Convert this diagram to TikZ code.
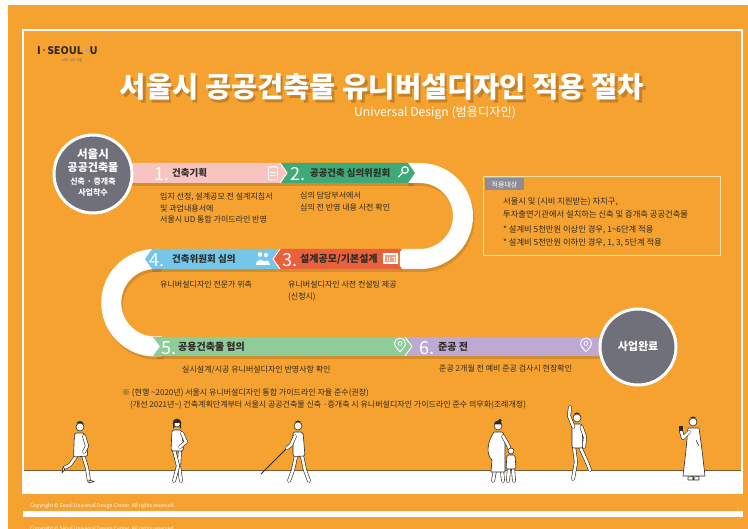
\documentclass[tikz,border=0pt]{standalone}
\usepackage{fontspec}
\setmainfont{Noto Sans CJK KR}
\definecolor{bg}{HTML}{F5A230}
\definecolor{ink}{HTML}{2E2A26}
\definecolor{disc}{HTML}{6F7079}
\definecolor{pinkband}{HTML}{F7C4C0}
\definecolor{greenband}{HTML}{3DAA78}
\definecolor{redband}{HTML}{E8613C}
\definecolor{blueband}{HTML}{74C6EA}
\definecolor{mintband}{HTML}{8ECC9A}
\definecolor{lilacband}{HTML}{BEA9D3}
\definecolor{cream}{HTML}{FAE3A8}
\definecolor{tabgray}{HTML}{8C8D97}
\definecolor{groundline}{HTML}{7A5A32}
\definecolor{logored}{HTML}{E4352B}
\definecolor{logoblue}{HTML}{6CB7E0}
\tikzset{
  lbl/.style={inner sep=0, anchor=base west, text=ink, font=\fontsize{10}{10}\selectfont\bfseries},
  num/.style={inner sep=0, anchor=base west, text=white, font=\fontsize{18}{18}\selectfont},
  desc/.style={inner sep=0, anchor=base west, text=ink, font=\fontsize{8}{8}\selectfont},
  boxtext/.style={inner sep=0, anchor=base west, text=ink, font=\fontsize{8.3}{8.3}\selectfont},
  disctext/.style={inner sep=0, anchor=base, text=white, font=\bfseries},
  bandshadow/.style={fill=black, opacity=0.13},
  road/.style={draw=white, line width=20pt},
  limb/.style={draw=ink, double=white, double distance=2.6pt, line width=0.6pt, line cap=round, line join=round},
  body/.style={draw=ink, fill=white, line width=0.6pt, line join=round},
  hair/.style={fill=ink},
  icon/.style={draw=white, line width=0.9pt, line cap=round, line join=round},
  copyline/.style={inner sep=0, anchor=base west, text=white, font=\fontsize{5}{5}\selectfont},
}
\begin{document}
\begin{tikzpicture}[x=1pt, y=-1pt]
\useasboundingbox (0,0) rectangle (748,529);
% page and frame
\fill[white] (0,0) rectangle (748,529);
\fill[bg] (8,5) rectangle (748,529);
\fill[white] (23,470) rectangle (742,493);
\draw[groundline, line width=0.8pt] (23,470) -- (742,470);
\draw[white, line width=2pt] (23,30) rectangle (742,493);
\fill[white] (23,511) rectangle (743,517);

% logo
\node[inner sep=0, anchor=base west, text=ink, font=\fontsize{10.5}{10}\selectfont\bfseries] (logo) at (37,55)
  {I\textcolor{logored}{·}SEOUL\textcolor{logoblue}{·}U};
\node[inner sep=0, anchor=base, text=ink!70, font=\fontsize{3.5}{3.5}\selectfont] (tagline) at (72,62) {너와 나의 서울};

% title with its soft shade
\node[inner sep=0, anchor=base, text=black, text opacity=0.2, font=\fontsize{28.5}{28.5}\selectfont\bfseries] (titleshade) at (384.5,100.5)
  {서울시 공공건축물 유니버설디자인 적용 절차};
\node[inner sep=0, anchor=base, text=white, font=\fontsize{28.5}{28.5}\selectfont\bfseries] (title) at (382,98)
  {서울시 공공건축물 유니버설디자인 적용 절차};
\node[inner sep=0, anchor=base west, text=white, font=\fontsize{12.2}{12.2}\selectfont] (subtitle) at (354,117)
  {Universal Design (범용디자인)};

% shadows of the route
\begin{scope}[xshift=1.5pt, yshift=-3pt]
  \draw[black, opacity=0.12, line width=20pt] (406,173) -- (420,173) arc[start angle=-90, end angle=90, radius=43] -- (400,259);
  \draw[black, opacity=0.12, line width=20pt] (160,259) -- (155,259) arc[start angle=270, end angle=90, radius=43.75] -- (162,346.5);
  \fill[bandshadow] (125,163) rectangle (412,183);
  \fill[bandshadow] (150,249) rectangle (400,269);
  \fill[bandshadow] (155,337) rectangle (600,356);
\end{scope}

% white bends of the route
\draw[road] (406,173) -- (420,173) arc[start angle=-90, end angle=90, radius=43] -- (400,259);
\draw[road] (160,259) -- (155,259) arc[start angle=270, end angle=90, radius=43.75] -- (162,346.5);

% step bands
\fill[pinkband] (125,163) -- (280,163) -- (287,173) -- (280,183) -- (125,183) -- cycle;
\fill[greenband] (281,163) -- (408,163) -- (415,173) -- (408,183) -- (281,183) -- (288,173) -- cycle;
\draw[white, line width=1pt] (280,163) -- (287,173) -- (280,183);
\fill[redband] (402,249) -- (280,249) -- (273,259) -- (280,269) -- (402,269) -- (395,259) -- cycle;
\fill[blueband] (279,249) -- (152,249) -- (145,259) -- (152,269) -- (279,269) -- (272,259) -- cycle;
\draw[white, line width=1pt] (280,249) -- (273,259) -- (280,269);
\fill[mintband] (153,337) -- (405,337) -- (412,346.5) -- (405,356) -- (153,356) -- (160,346.5) -- cycle;
\fill[lilacband] (406,337) -- (598,337) -- (605,346.5) -- (598,356) -- (406,356) -- (413,346.5) -- cycle;
\draw[white, line width=1pt] (405,337) -- (412,346.5) -- (405,356);

% start and end discs
\node[circle, fill=disc, draw=white, line width=3pt, minimum size=78pt, inner sep=0] (start) at (93,174) {};
\node[disctext, font=\fontsize{11.5}{11.5}\selectfont\bfseries] (s1) at (93,159) {서울시};
\node[disctext, font=\fontsize{11}{11}\selectfont\bfseries] (s2) at (93,172) {공공건축물};
\node[disctext, font=\fontsize{8}{8}\selectfont\bfseries] (s3) at (93,185) {신축 · 증개축};
\node[disctext, font=\fontsize{8}{8}\selectfont\bfseries] (s4) at (93,196) {사업착수};
\node[circle, fill=disc, draw=white, line width=3pt, minimum size=76pt, inner sep=0] (finish) at (638,347) {};
\node[disctext, font=\fontsize{11}{11}\selectfont\bfseries] (f1) at (638,351) {사업완료};

% step titles
\node[num] (n1) at (154,181) {1.};
\node[lbl, font=\fontsize{9.5}{9.5}\selectfont\bfseries] (t1) at (172,177) {건축기획};
\node[num] (n2) at (290,181) {2.};
\node[lbl, font=\fontsize{9.4}{9.4}\selectfont\bfseries] (t2) at (310,177) {공공건축 심의위원회};
\node[num] (n3) at (282,267) {3.};
\node[lbl] (t3) at (300,263) {설계공모/기본설계};
\node[num] (n4) at (149,267) {4.};
\node[lbl, font=\fontsize{9.5}{9.5}\selectfont\bfseries] (t4) at (172,263) {건축위원회 심의};
\node[num] (n5) at (161,354.5) {5.};
\node[lbl] (t5) at (178,350.5) {공용건축물 협의};
\node[num] (n6) at (419,354.5) {6.};
\node[lbl] (t6) at (438,350.5) {준공 전};

% icons on the bands
\draw[icon, rounded corners=1pt] (268.5,167) rectangle (277.5,180);
\draw[icon] (271,166.5) -- (275,166.5);
\draw[icon, line width=0.6pt] (270.5,172) -- (275.5,172) (270.5,175) -- (275.5,175);
\draw[icon, line width=1.2pt] (405,170) circle[radius=3.3] (402.6,172.6) -- (398.5,177);
\fill[white] (383,253.5) rectangle (398,264.5);
\fill[redband!60] (385,255.5) rectangle (396,262.5);
\draw[white, line width=0.7pt] (387,257) -- (387,261) (389.5,257) -- (389.5,261) (392,257) -- (394,257) -- (394,261);
\fill[white] (260,254.5) circle[radius=2.3] (266,255) circle[radius=2.1];
\fill[white] (255.5,265) .. controls (255.5,258.5) and (264.5,258.5) .. (264.5,265) -- cycle;
\fill[white] (262.5,265) .. controls (262.5,259) and (270,259) .. (270,265) -- cycle;
\foreach \px in {400, 586}{
  \draw[icon] (\px,352) .. controls (\px-3,348) and (\px-5.5,346) .. (\px-5.5,343.5)
     arc[start angle=180, end angle=360, radius=5.5] .. controls (\px+5.5,346) and (\px+3,348) .. (\px,352);
  \draw[icon, line width=0.7pt] (\px,343.5) circle[radius=2];
}

% step notes
\node[desc] (d1a) at (160,200) {입지 선정, 설계공모 전 설계지침서};
\node[desc] (d1b) at (160,211.5) {및 과업내용서에};
\node[desc] (d1c) at (160,223) {서울시 UD 통합 가이드라인 반영};
\node[desc] (d2a) at (300,198.5) {심의 담당부서에서};
\node[desc] (d2b) at (300,211) {심의 전 반영 내용 사전 확인};
\node[desc] (d4) at (160,288) {유니버설디자인 전문가 위촉};
\node[desc] (d3a) at (288,288) {유니버설디자인 사전 컨설팅 제공};
\node[desc] (d3b) at (288,300) {(신청시)};
\node[desc] (d5) at (182,373) {실시설계/시공 유니버설디자인 반영사항 확인};
\node[desc] (d6) at (439,372) {준공 2개월 전 예비 준공 검사시 현장확인};

% scope box
\draw[cream, line width=1pt] (483,177) rectangle (720,256);
\fill[tabgray] (485,178.5) rectangle (524,190);
\node[inner sep=0, anchor=base, text=white, font=\fontsize{7}{7}\selectfont] (tab) at (504.5,187.5) {적용대상};
\node[boxtext] (b1) at (503,205) {서울시 및 (시비 지원받는) 자치구,};
\node[boxtext] (b2) at (503,218) {투자출연기관에서 설치하는 신축 및 증개축 공공건축물};
\node[boxtext] (b3) at (503,233) {* 설계비 5천만원 이상인 경우, 1\textasciitilde6단계 적용};
\node[boxtext] (b4) at (503,246) {* 설계비 5천만원 이하인 경우, 1, 3, 5단계 적용};

% footnotes
\node[desc] (fn1) at (122,396) {※ (현행 \textasciitilde2020년) 서울시 유니버설디자인 통합 가이드라인 자율 준수(권장)};
\node[desc] (fn2) at (130,407.5) {(개선 2021년\textasciitilde) 건축계획단계부터 서울시 공공건축물 신축 ·증개축 시 유니버설디자인 가이드라인 준수 의무화(조례개정)};

% copyright lines
\node[copyline] (copy1) at (30,508) {Copyright © Seoul Universal Design Center. All rights reserved.};
\node[copyline] (copy2) at (30,530.5) {Copyright © Seoul Universal Design Center. All rights reserved.};

% walking man
\draw[limb] (77,455) -- (70,465) -- (64,468);
\draw[limb] (83,455) -- (87,468) -- (89,481);
\draw[body, rounded corners=2pt] (74.5,433) -- (85,433) -- (88,456) -- (73.5,457) -- cycle;
\draw[limb] (84,436) -- (87,446) -- (84,452);
\draw[body] (80,427) circle[radius=4];
\fill[hair] (76,425) arc[start angle=180, end angle=360, radius=4] -- (84,423.5) -- (77,423) -- cycle;
\draw[body] (89,480) -- (94,481.5) -- (89,483) -- cycle;
\draw[body] (63,467) -- (62,473) -- (65,469) -- cycle;

% woman with hand on hip
\draw[limb] (180,450) -- (179,466) -- (181,481);
\draw[limb] (174,450) -- (178,466) -- (174,481);
\draw[body, rounded corners=2pt] (172,430) -- (182,430) -- (183.5,451) -- (171,451) -- cycle;
\draw[limb] (182,433) -- (186,442) -- (180,447);
\draw[body] (177,423) circle[radius=4];
\fill[hair] (173,423) arc[start angle=180, end angle=360, radius=4] -- (181,429) -- (179.5,427) -- (179.5,423) -- (174.5,423) -- (174.5,427) -- (173,429) -- cycle;

% man with white cane
\draw[ink, line width=0.8pt] (287,448) -- (261,474);
\draw[limb] (296,456) -- (293,470) -- (289,481);
\draw[limb] (302,456) -- (305,470) -- (309,481);
\draw[body, rounded corners=2pt] (293,432) -- (303,432) -- (305,456) -- (293,456.5) -- cycle;
\draw[limb] (295,436) -- (291,445) -- (287,448);
\draw[body] (298,426) circle[radius=4];
\fill[hair] (294,424.5) arc[start angle=180, end angle=360, radius=4] -- (301,422) -- (295,422) -- cycle;

% pregnant woman and child
\draw[limb] (495,470) -- (493,481);
\draw[limb] (502,470) -- (503,481);
\draw[body] (494,432) .. controls (487,442) and (486,455) .. (492,460) -- (491,472) -- (505,472)
   -- (505,445) .. controls (505,438) and (504,433) .. (502,432) -- cycle;
\draw[limb] (503,436) -- (508,445) -- (510,450);
\draw[body] (498,426) circle[radius=4];
\fill[hair] (494,424.5) arc[start angle=180, end angle=360, radius=4] -- cycle;
\fill[hair] (500,420.5) circle[radius=1.8];
\draw[limb] (509,468) -- (508,481);
\draw[limb] (513,468) -- (514,481);
\draw[body, rounded corners=1.5pt] (507,455) -- (515,455) -- (516,469) -- (506,469) -- cycle;
\draw[body] (511,451) circle[radius=3];

% man waving
\draw[limb] (574,447) -- (576,462) -- (573,479);
\draw[limb] (580,447) -- (586,460) -- (590,470);
\draw[body, rounded corners=2pt] (572,424) -- (582,424) -- (583,448) -- (572,448) -- cycle;
\draw[limb] (573.5,427) -- (569,416) -- (570,407);
\draw[limb] (581.5,427) -- (585,437) -- (584,447);
\draw[body] (577,418) circle[radius=4];
\fill[hair] (573,416.5) arc[start angle=180, end angle=360, radius=4] -- (580,414) -- (574,414) -- cycle;

% man in long coat with phone
\draw[body] (688,428) -- (699,428) -- (702,450) -- (705,476) -- (683,476) -- (686,450) -- cycle;
\draw[ink, line width=0.5pt] (696,440) -- (699,446);
\draw[body] (688,477) -- (693,476.5) -- (693,480) -- (688,480) -- cycle (694,477) -- (699,476.5) -- (699,480) -- (694,480) -- cycle;
\draw[limb] (689,432) -- (683,438) -- (681,431);
\fill[ink] (679,426) rectangle (682.5,431);
\draw[body] (693,422) circle[radius=4];
\fill[hair] (689,420.5) arc[start angle=180, end angle=360, radius=4] -- (696,418) -- (690,418) -- cycle;
\end{tikzpicture}
\end{document}
